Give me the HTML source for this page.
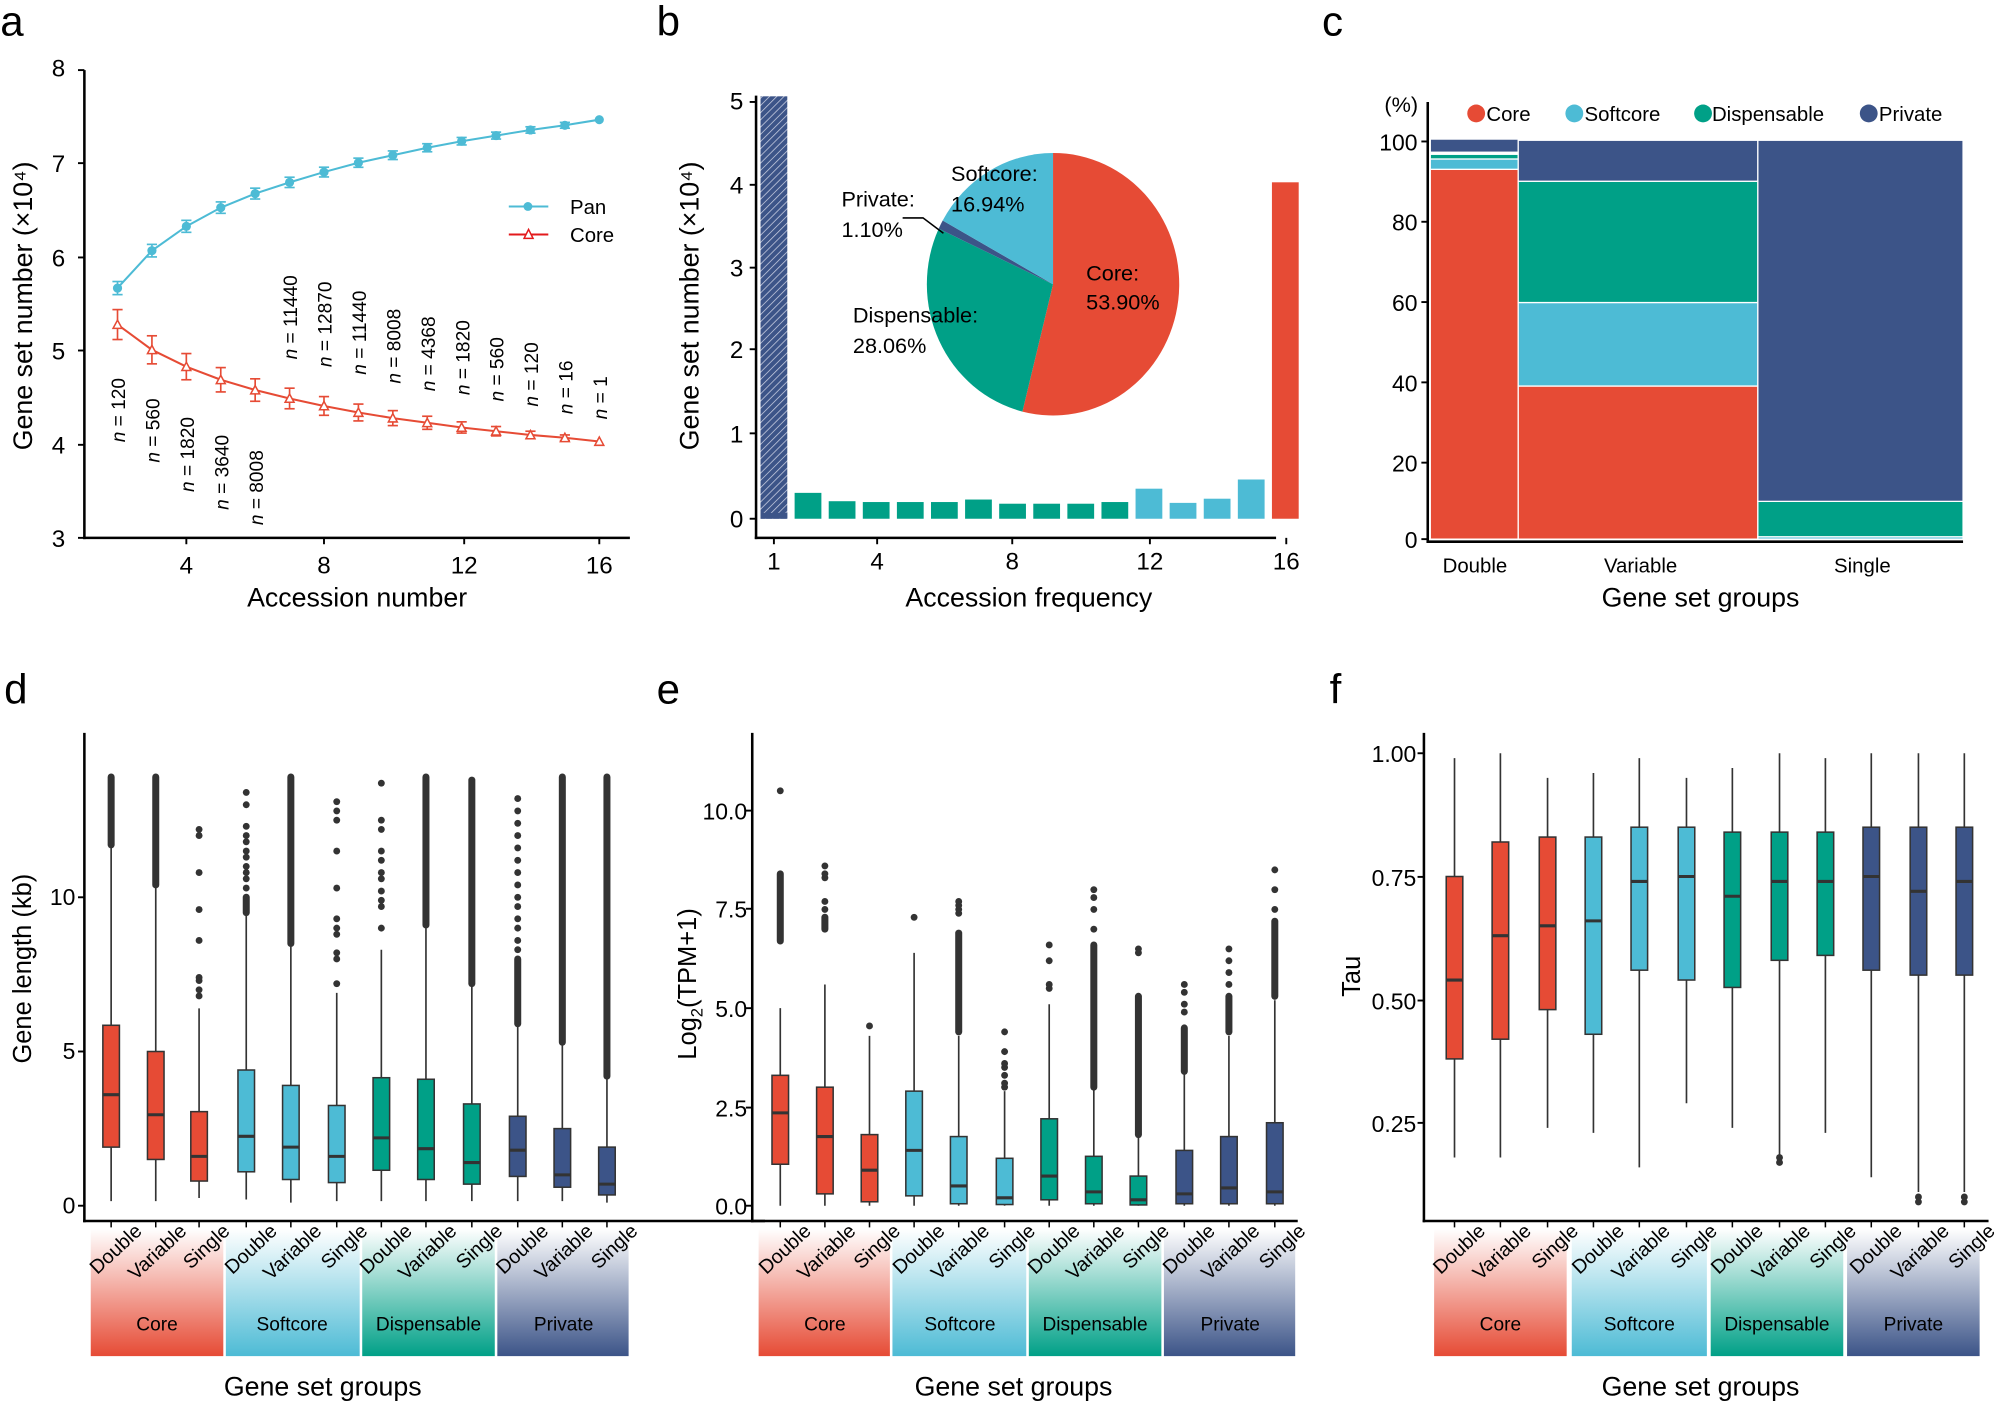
<!DOCTYPE html>
<html><head><meta charset="utf-8"><style>
html,body{margin:0;padding:0;background:#fff;}
svg{display:block;font-family:"Liberation Sans",Arial,sans-serif;}
</style></head><body>
<svg id="s" width="1999" height="1402" viewBox="0 0 1568 1100" xmlns="http://www.w3.org/2000/svg">
<defs>
<pattern id="hatch" width="4" height="4" patternUnits="userSpaceOnUse" patternTransform="rotate(45)">
<rect width="4" height="4" fill="#3C5488"/><line x1="0" y1="0" x2="0" y2="4" stroke="#c8cde0" stroke-width="1.2"/>
</pattern>
<linearGradient id="gR" x1="0" y1="0" x2="0" y2="1"><stop offset="0" stop-color="#fff"/><stop offset="1" stop-color="#E64B35"/></linearGradient>
<linearGradient id="gB" x1="0" y1="0" x2="0" y2="1"><stop offset="0" stop-color="#fff"/><stop offset="1" stop-color="#4DBBD5"/></linearGradient>
<linearGradient id="gG" x1="0" y1="0" x2="0" y2="1"><stop offset="0" stop-color="#fff"/><stop offset="1" stop-color="#00A087"/></linearGradient>
<linearGradient id="gN" x1="0" y1="0" x2="0" y2="1"><stop offset="0" stop-color="#fff"/><stop offset="1" stop-color="#3C5488"/></linearGradient>
</defs>
<g id="shapes"></g>

<g font-size="33">
<text x="0" y="28">a</text><text x="515" y="28">b</text><text x="1037" y="28">c</text>
<text x="3" y="552">d</text><text x="515" y="552">e</text><text x="1043" y="552">f</text>
</g>

<g font-size="19" text-anchor="end">
<text x="51" y="60">8</text><text x="51" y="135">7</text><text x="51" y="209">6</text><text x="51" y="282">5</text><text x="51" y="356">4</text><text x="51" y="429">3</text>
</g>
<g font-size="19" text-anchor="middle">
<text x="146" y="450">4</text><text x="254" y="450">8</text><text x="364" y="450">12</text><text x="470" y="450">16</text>
</g>
<text x="280" y="476" font-size="21" text-anchor="middle">Accession number</text>
<text transform="translate(25,240) rotate(-90)" font-size="21" text-anchor="middle">Gene set number (×10⁴)</text>
<g font-size="16"><text x="447" y="168">Pan</text><text x="447" y="190">Core</text></g>
<g font-size="15">
<text transform="translate(98,347) rotate(-90)"><tspan font-style="italic">n</tspan> = 120</text>
<text transform="translate(125,363) rotate(-90)"><tspan font-style="italic">n</tspan> = 560</text>
<text transform="translate(152,386) rotate(-90)"><tspan font-style="italic">n</tspan> = 1820</text>
<text transform="translate(179,400) rotate(-90)"><tspan font-style="italic">n</tspan> = 3640</text>
<text transform="translate(206,412) rotate(-90)"><tspan font-style="italic">n</tspan> = 8008</text>
<text transform="translate(233,282) rotate(-90)"><tspan font-style="italic">n</tspan> = 11440</text>
<text transform="translate(260,288) rotate(-90)"><tspan font-style="italic">n</tspan> = 12870</text>
<text transform="translate(287,294) rotate(-90)"><tspan font-style="italic">n</tspan> = 11440</text>
<text transform="translate(314,301) rotate(-90)"><tspan font-style="italic">n</tspan> = 8008</text>
<text transform="translate(341,307) rotate(-90)"><tspan font-style="italic">n</tspan> = 4368</text>
<text transform="translate(368,310) rotate(-90)"><tspan font-style="italic">n</tspan> = 1820</text>
<text transform="translate(395,315) rotate(-90)"><tspan font-style="italic">n</tspan> = 560</text>
<text transform="translate(422,319) rotate(-90)"><tspan font-style="italic">n</tspan> = 120</text>
<text transform="translate(449,325) rotate(-90)"><tspan font-style="italic">n</tspan> = 16</text>
<text transform="translate(476,329) rotate(-90)"><tspan font-style="italic">n</tspan> = 1</text>
</g>

<g font-size="19" text-anchor="end">
<text x="583" y="414">0</text><text x="583" y="347">1</text><text x="583" y="281">2</text><text x="583" y="217">3</text><text x="583" y="152">4</text><text x="583" y="86">5</text>
</g>
<g font-size="19" text-anchor="middle">
<text x="607" y="447">1</text><text x="688" y="447">4</text><text x="794" y="447">8</text><text x="902" y="447">12</text><text x="1009" y="447">16</text>
</g>
<text x="807" y="476" font-size="21" text-anchor="middle">Accession frequency</text>
<text transform="translate(548,240) rotate(-90)" font-size="21" text-anchor="middle">Gene set number (×10⁴)</text>
<g font-size="17">
<text x="746" y="142">Softcore:</text><text x="746" y="166">16.94%</text>
<text x="660" y="162">Private:</text><text x="660" y="186">1.10%</text>
<text x="669" y="253">Dispensable:</text><text x="669" y="277">28.06%</text>
<text x="852" y="220">Core:</text><text x="852" y="243">53.90%</text>
</g>

<g font-size="18" text-anchor="end">
<text x="1112" y="430">0</text><text x="1112" y="370">20</text><text x="1112" y="307">40</text><text x="1112" y="244">60</text><text x="1112" y="181">80</text><text x="1112" y="118">100</text>
</g>
<text x="1086" y="88" font-size="17">(%)</text>
<g font-size="16">
<text x="1166" y="95">Core</text><text x="1243" y="95">Softcore</text><text x="1343" y="95">Dispensable</text><text x="1474" y="95">Private</text>
</g>
<g font-size="16" text-anchor="middle">
<text x="1157" y="449">Double</text><text x="1287" y="449">Variable</text><text x="1461" y="449">Single</text>
</g>
<text x="1334" y="476" font-size="21" text-anchor="middle">Gene set groups</text>

<g font-size="18" text-anchor="end">
<text x="59" y="952">0</text><text x="59" y="831">5</text><text x="59" y="710">10</text>
<text x="586" y="953">0.0</text><text x="586" y="876">2.5</text><text x="586" y="798">5.0</text><text x="586" y="720">7.5</text><text x="586" y="643">10.0</text>
<text x="1111" y="888">0.25</text><text x="1111" y="792">0.50</text><text x="1111" y="695">0.75</text><text x="1111" y="598">1.00</text>
</g>
<text transform="translate(24,760) rotate(-90)" font-size="20" text-anchor="middle">Gene length (kb)</text>
<text transform="translate(546,772) rotate(-90)" font-size="20" text-anchor="middle">Log<tspan font-size="13" dy="5">2</tspan><tspan dy="-5">(TPM+1)</tspan></text>
<text transform="translate(1067,766) rotate(-90)" font-size="20" text-anchor="middle">Tau</text>
<g font-size="21" text-anchor="middle">
<text x="253" y="1095">Gene set groups</text><text x="795" y="1095">Gene set groups</text><text x="1334" y="1095">Gene set groups</text>
</g>
<g font-size="15" text-anchor="middle">
<text x="123" y="1044">Core</text><text x="229" y="1044">Softcore</text><text x="336" y="1044">Dispensable</text><text x="442" y="1044">Private</text>
<text x="647" y="1044">Core</text><text x="753" y="1044">Softcore</text><text x="859" y="1044">Dispensable</text><text x="965" y="1044">Private</text>
<text x="1177" y="1044">Core</text><text x="1286" y="1044">Softcore</text><text x="1394" y="1044">Dispensable</text><text x="1501" y="1044">Private</text>
</g>
<g font-size="15.5" text-anchor="end">
<text transform="translate(112,967) rotate(-43)">Double</text><text transform="translate(147,967) rotate(-43)">Variable</text><text transform="translate(181,967) rotate(-43)">Single</text>
<text transform="translate(218,967) rotate(-43)">Double</text><text transform="translate(253,967) rotate(-43)">Variable</text><text transform="translate(289,967) rotate(-43)">Single</text>
<text transform="translate(324,967) rotate(-43)">Double</text><text transform="translate(359,967) rotate(-43)">Variable</text><text transform="translate(395,967) rotate(-43)">Single</text>
<text transform="translate(431,967) rotate(-43)">Double</text><text transform="translate(466,967) rotate(-43)">Variable</text><text transform="translate(501,967) rotate(-43)">Single</text>
<text transform="translate(637,967) rotate(-43)">Double</text><text transform="translate(672,967) rotate(-43)">Variable</text><text transform="translate(707,967) rotate(-43)">Single</text>
<text transform="translate(742,967) rotate(-43)">Double</text><text transform="translate(777,967) rotate(-43)">Variable</text><text transform="translate(813,967) rotate(-43)">Single</text>
<text transform="translate(848,967) rotate(-43)">Double</text><text transform="translate(883,967) rotate(-43)">Variable</text><text transform="translate(918,967) rotate(-43)">Single</text>
<text transform="translate(954,967) rotate(-43)">Double</text><text transform="translate(989,967) rotate(-43)">Variable</text><text transform="translate(1025,967) rotate(-43)">Single</text>
<text transform="translate(1166,967) rotate(-43)">Double</text><text transform="translate(1202,967) rotate(-43)">Variable</text><text transform="translate(1239,967) rotate(-43)">Single</text>
<text transform="translate(1275,967) rotate(-43)">Double</text><text transform="translate(1311,967) rotate(-43)">Variable</text><text transform="translate(1348,967) rotate(-43)">Single</text>
<text transform="translate(1384,967) rotate(-43)">Double</text><text transform="translate(1421,967) rotate(-43)">Variable</text><text transform="translate(1457,967) rotate(-43)">Single</text>
<text transform="translate(1493,967) rotate(-43)">Double</text><text transform="translate(1530,967) rotate(-43)">Variable</text><text transform="translate(1566,967) rotate(-43)">Single</text>
</g>
</svg>
<script>
(function(){
var NS="http://www.w3.org/2000/svg";
var G=document.getElementById('shapes');
function el(t,a,p){var e=document.createElementNS(NS,t);for(var k in a)e.setAttribute(k,a[k]);(p||G).appendChild(e);return e;}
var R="#E64B35",B="#4DBBD5",GR="#00A087",N="#3C5488",D="#333";
function line(x1,y1,x2,y2,c,w){el('line',{x1:x1,y1:y1,x2:x2,y2:y2,stroke:c||'#000','stroke-width':w||1.5});}
line(66,55,66,423,'#000',2);line(65,422,494,422,'#000',2);
[55,128,202,275,349,422].forEach(function(y){line(61,y,66,y);});
[146,254,364,470].forEach(function(x){line(x,422,x,427);});
var pan=[5.67,6.07,6.33,6.53,6.68,6.80,6.91,7.01,7.09,7.17,7.24,7.30,7.36,7.41,7.47];
var core=[5.28,5.01,4.83,4.69,4.58,4.49,4.41,4.34,4.28,4.23,4.18,4.14,4.10,4.07,4.03];
function ax(k){return 92+(k-2)*27;}function ay(v){return 422-(v-3)*73.4;}
var pp="",cp="";
for(var i=0;i<15;i++){pp+=(i?"L":"M")+ax(i+2)+","+ay(pan[i]);cp+=(i?"L":"M")+ax(i+2)+","+ay(core[i]);}
el('path',{d:pp,fill:'none',stroke:B,'stroke-width':1.6});
el('path',{d:cp,fill:'none',stroke:R,'stroke-width':1.6});
for(i=0;i<15;i++){
 var x=ax(i+2),e1=0.07-i*0.003,e2=0.16-i*0.01; if(e2<0.02)e2=0.02; if(e1<0.02)e1=0.02;
 if(i<14){[[pan[i],e1,B],[core[i],e2,R]].forEach(function(q){var y1=ay(q[0]+q[1]),y2=ay(q[0]-q[1]);line(x,y1,x,y2,q[2],1.3);line(x-4,y1,x+4,y1,q[2],1.3);line(x-4,y2,x+4,y2,q[2],1.3);});}
 el('circle',{cx:x,cy:ay(pan[i]),r:3.6,fill:B});
 var y=ay(core[i]);el('path',{d:"M"+(x-3.5)+","+(y+3)+"L"+(x+3.5)+","+(y+3)+"L"+x+","+(y-3.5)+"Z",fill:'#fff',stroke:R,'stroke-width':1.2});
}
line(399,162,430,162,B,1.6);el('circle',{cx:414,cy:162,r:3.5,fill:B});
line(399,184,430,184,'#e31a1c',1.6);el('path',{d:"M411,187L418,187L414.5,180Z",fill:'#fff',stroke:'#e31a1c','stroke-width':1.2});
line(593,75,593,423,'#000',2);line(592,422,1001,422,'#000',2);
[407,340,274,210,145,80].forEach(function(y){line(588,y,593,y);});
[607,688,794,902,1009].forEach(function(x){line(x,422,x,427);});
function by(v){return 407-v*65.5;}
function bx(k){return 607+(k-1)*26.75;}
el('rect',{x:bx(1)-10.5,y:by(5.06),width:21,height:by(0)-by(5.06),fill:'url(#hatch)'});
el('rect',{x:bx(1)-10.5,y:by(0.07),width:21,height:by(0)-by(0.07),fill:N});
var bv=[0,0.31,0.21,0.20,0.20,0.20,0.23,0.18,0.18,0.18,0.20,0.36,0.19,0.24,0.47,4.03];
for(var k=2;k<=16;k++){var c=k<=11?GR:(k<=15?B:R);el('rect',{x:bx(k)-10.5,y:by(bv[k-1]),width:21,height:by(0)-by(bv[k-1]),fill:c});}
var cx=826,cy=223,rx=99,ry=103;
function pt(f){var a=f*2*Math.PI;return [cx+rx*Math.sin(a),cy-ry*Math.cos(a)];}
function wedge(f0,f1,c){var p0=pt(f0),p1=pt(f1);el('path',{d:"M"+cx+","+cy+"L"+p0[0]+","+p0[1]+"A"+rx+","+ry+" 0 "+((f1-f0)>0.5?1:0)+",1 "+p1[0]+","+p1[1]+"Z",fill:c});}
wedge(0,0.539,R);wedge(0.539,0.8196,GR);wedge(0.8196,0.8306,N);wedge(0.8306,1,B);
el('path',{d:"M708,171L724,171L740,183",fill:'none',stroke:'#000','stroke-width':1.2});
line(1120,80,1120,426,'#000',2);line(1119,425,1540,425,'#000',2);
[423,363,300,237,174,111].forEach(function(y){line(1115,y,1120,y);});
function cy2(p){return 423-p*3.12;}
function seg(x0,x1,p0,p1,c){el('rect',{x:x0,y:cy2(p1),width:x1-x0,height:cy2(p0)-cy2(p1),fill:c,stroke:'#fff','stroke-width':1});}
seg(1122,1191,0,93,R);seg(1122,1191,93,95.6,B);seg(1122,1191,95.6,96.8,GR);seg(1122,1191,96.8,97.3,'#fff');seg(1122,1191,97.3,100.6,N);
seg(1191,1379,0,38.5,R);seg(1191,1379,38.5,59.5,B);seg(1191,1379,59.5,90,GR);seg(1191,1379,90,100.3,N);
seg(1379,1540,0,0.6,B);seg(1379,1540,0.6,9.5,GR);seg(1379,1540,9.5,100.3,N);
[[1158,R],[1235,B],[1336,GR],[1466,N]].forEach(function(q){el('circle',{cx:q[0],cy:89,r:7,fill:q[1]});});
function axes(x0,x1,yticks){line(x0,575,x0,959,'#000',2);line(x0-1,958,x1,958,'#000',2);yticks.forEach(function(y){line(x0-5,y,x0,y);});}
axes(66,600,[946,825,704]);axes(590,1018,[946,869,791,713,636]);axes(1117,1560,[881,785,688,591]);
function bands(xs,y0,y1){var g=['url(#gR)','url(#gB)','url(#gG)','url(#gN)'];xs.forEach(function(b,i){el('rect',{x:b[0],y:y0,width:b[1]-b[0],height:y1-y0,fill:g[i]});});}
bands([[71,175],[177,282],[284,388],[390,493]],964,1064);
bands([[595,698],[700,805],[807,911],[913,1016]],964,1064);
bands([[1125,1229],[1233,1339],[1342,1446],[1449,1553]],964,1064);
var cols=[R,R,R,B,B,B,GR,GR,GR,N,N,N];
function box(cx,ys,d,c){
 var q1=ys(d[0]),md=ys(d[1]),q3=ys(d[2]),lo=ys(d[3]),hi=ys(d[4]);
 line(cx,958,cx,963,'#000',1.2);
 line(cx,lo,cx,hi,D,1.3);
 if(d[5]){line(cx,ys(d[5][0]),cx,ys(d[5][1]),D,5.5);G.lastChild.setAttribute('stroke-linecap','round');}
 (d[6]||[]).forEach(function(v){el('circle',{cx:cx,cy:ys(v),r:2.7,fill:D});});
 el('rect',{x:cx-6.5,y:q3,width:13,height:q1-q3,fill:c,stroke:D,'stroke-width':1.2});
 line(cx-6.5,md,cx+6.5,md,D,2.4);
}
var dY=function(v){return 946-v*24.2;};
var dd=[[1.9,3.6,5.85,0.15,11.6,[11.7,13.9]],[1.5,2.95,5.0,0.15,10.3,[10.4,13.9]],[0.8,1.6,3.05,0.25,6.4,null,[6.8,7.0,7.3,7.4,8.6,9.6,10.8,12.0,12.2]],
[1.1,2.25,4.4,0.2,9.4,[9.5,10.0],[10.3,10.6,10.8,11.0,11.3,11.5,11.8,12.0,12.3,13.0,13.4]],[0.85,1.9,3.9,0.1,8.4,[8.5,13.9]],[0.75,1.6,3.25,0.15,6.9,null,[7.2,8.0,8.2,8.8,9.0,9.3,10.3,11.5,12.5,12.8,13.1]],
[1.15,2.2,4.15,0.15,8.3,null,[9.0,9.7,9.9,10.2,10.6,10.8,11.2,11.5,12.2,12.5,13.7]],[0.85,1.85,4.1,0.15,9.0,[9.1,13.9]],[0.7,1.4,3.3,0.15,7.1,[7.2,13.8]],
[0.95,1.8,2.9,0.15,5.8,[5.9,8.0],[8.3,8.6,9.0,9.3,9.7,10.0,10.4,10.8,11.2,11.6,12.0,12.4,12.8,13.2]],[0.6,1.0,2.5,0.15,5.2,[5.3,13.9]],[0.35,0.7,1.9,0.1,4.1,[4.2,13.9]]];
var dx=[87,122,156,193,228,264,299,334,370,406,441,476];
dd.forEach(function(d,i){box(dx[i],dY,d,cols[i]);});
var eY=function(v){return 946-v*31;};
var ed=[[1.05,2.35,3.3,0,5.0,[6.7,8.4],[10.5]],[0.3,1.75,3.0,0,5.6,[7.0,7.3],[7.5,7.7,8.3,8.4,8.6]],[0.1,0.9,1.8,0,4.3,null,[4.55]],
[0.25,1.4,2.9,0,6.4,null,[7.3]],[0.05,0.5,1.75,0,4.3,[4.4,6.9],[7.4,7.5,7.6,7.7]],[0.03,0.2,1.2,0,2.9,null,[3.0,3.1,3.3,3.5,3.6,3.9,4.4]],
[0.15,0.75,2.2,0,5.1,null,[5.5,5.6,6.2,6.6]],[0.05,0.35,1.25,0,3.0,[3.0,6.6],[7.0,7.5,7.8,8.0]],[0.02,0.15,0.75,0,1.8,[1.8,5.3],[6.4,6.5]],
[0.05,0.3,1.4,0,3.4,[3.4,4.5],[4.9,5.1,5.4,5.6]],[0.05,0.45,1.75,0,4.3,[4.4,5.3],[5.6,5.9,6.2,6.5]],[0.05,0.35,2.1,0,5.2,[5.3,7.2],[7.5,8.0,8.5]]];
var ex=[612,647,682,717,752,788,823,858,893,929,964,1000];
ed.forEach(function(d,i){box(ex[i],eY,d,cols[i]);});
var fY=function(v){return 591+(1-v)*386.8;};
var fd=[[0.38,0.54,0.75,0.18,0.99],[0.42,0.63,0.82,0.18,1.0],[0.48,0.65,0.83,0.24,0.95],
[0.43,0.66,0.83,0.23,0.96],[0.56,0.74,0.85,0.16,0.99],[0.54,0.75,0.85,0.29,0.95],
[0.525,0.71,0.84,0.24,0.97],[0.58,0.74,0.84,0.18,1.0,null,[0.17,0.18]],[0.59,0.74,0.84,0.23,0.99],
[0.56,0.75,0.85,0.14,1.0],[0.55,0.72,0.85,0.11,1.0,null,[0.09,0.1]],[0.55,0.74,0.85,0.11,1.0,null,[0.09,0.1]]];
var fx=[1141,1177,1214,1250,1286,1323,1359,1396,1432,1468,1505,1541];
fd.forEach(function(d,i){box(fx[i],fY,d,cols[i]);});
})();
</script>
</body></html>
